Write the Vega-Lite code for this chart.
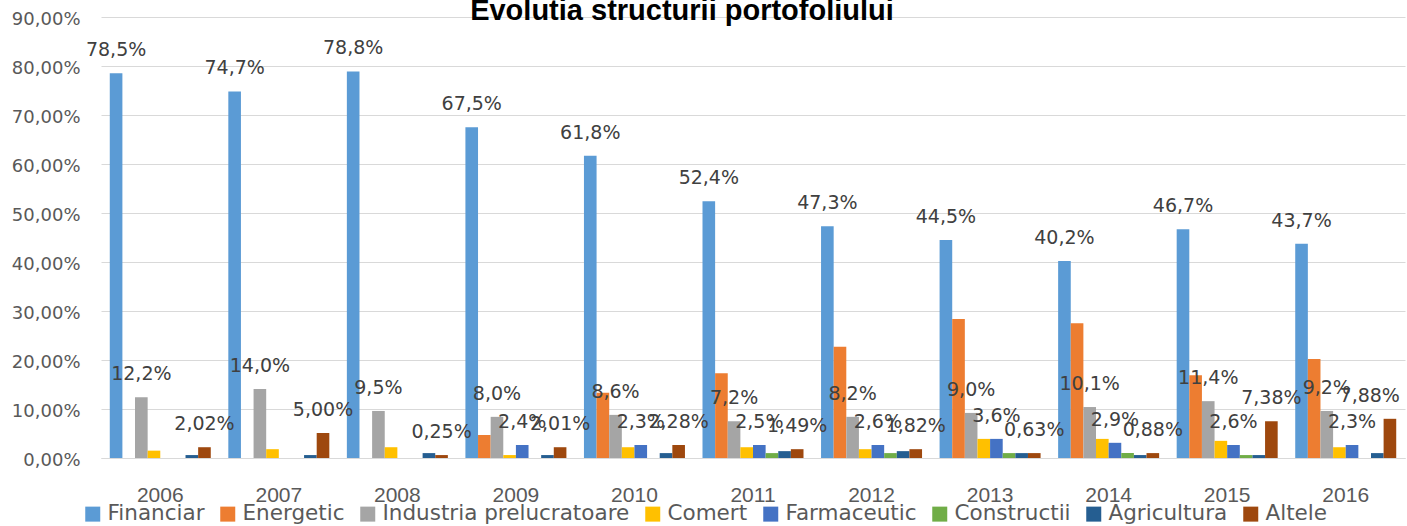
{
  "$schema": "https://vega.github.io/schema/vega-lite/v6.json",
  "autosize": {"type": "none"},
  "padding": {"left": 101, "top": 17, "right": 2, "bottom": 68},
  "width": 1304,
  "height": 441,
  "background": "white",
  "config": {
    "locale": {"number": {"decimal": ",", "thousands": ".", "grouping": [3], "currency": ["", " lei"]}},
    "view": {"stroke": null}
  },
  "title": {
    "text": "Evolutia structurii portofoliului",
    "font": "Liberation Sans",
    "fontWeight": "bold",
    "fontSize": 29,
    "color": "#000000",
    "anchor": "middle",
    "frame": "group",
    "baseline": "alphabetic",
    "offset": 0,
    "dx": -71,
    "dy": 39
  },
  "data": {
    "values": [
      {"year": "2006", "series": "Financiar", "value": 0.785, "label": "78,5%"},
      {"year": "2006", "series": "Industria prelucratoare", "value": 0.124, "label": "12,2%"},
      {"year": "2006", "series": "Comert", "value": 0.015, "label": null},
      {"year": "2006", "series": "Agricultura", "value": 0.006, "label": null},
      {"year": "2006", "series": "Altele", "value": 0.022, "label": "2,02%"},

      {"year": "2007", "series": "Financiar", "value": 0.748, "label": "74,7%"},
      {"year": "2007", "series": "Industria prelucratoare", "value": 0.141, "label": "14,0%"},
      {"year": "2007", "series": "Comert", "value": 0.018, "label": null},
      {"year": "2007", "series": "Agricultura", "value": 0.006, "label": null},
      {"year": "2007", "series": "Altele", "value": 0.051, "label": "5,00%"},

      {"year": "2008", "series": "Financiar", "value": 0.789, "label": "78,8%"},
      {"year": "2008", "series": "Industria prelucratoare", "value": 0.096, "label": "9,5%"},
      {"year": "2008", "series": "Comert", "value": 0.022, "label": null},
      {"year": "2008", "series": "Agricultura", "value": 0.010, "label": null},
      {"year": "2008", "series": "Altele", "value": 0.006, "label": "0,25%"},

      {"year": "2009", "series": "Financiar", "value": 0.675, "label": "67,5%"},
      {"year": "2009", "series": "Energetic", "value": 0.047, "label": null},
      {"year": "2009", "series": "Industria prelucratoare", "value": 0.084, "label": "8,0%"},
      {"year": "2009", "series": "Comert", "value": 0.006, "label": null},
      {"year": "2009", "series": "Farmaceutic", "value": 0.0265, "label": "2,4%"},
      {"year": "2009", "series": "Agricultura", "value": 0.006, "label": null},
      {"year": "2009", "series": "Altele", "value": 0.022, "label": "2,01%"},

      {"year": "2010", "series": "Financiar", "value": 0.617, "label": "61,8%"},
      {"year": "2010", "series": "Energetic", "value": 0.133, "label": null},
      {"year": "2010", "series": "Industria prelucratoare", "value": 0.088, "label": "8,6%"},
      {"year": "2010", "series": "Comert", "value": 0.022, "label": null},
      {"year": "2010", "series": "Farmaceutic", "value": 0.0265, "label": "2,3%"},
      {"year": "2010", "series": "Agricultura", "value": 0.010, "label": null},
      {"year": "2010", "series": "Altele", "value": 0.0265, "label": "2,28%"},

      {"year": "2011", "series": "Financiar", "value": 0.524, "label": "52,4%"},
      {"year": "2011", "series": "Energetic", "value": 0.173, "label": null},
      {"year": "2011", "series": "Industria prelucratoare", "value": 0.075, "label": "7,2%"},
      {"year": "2011", "series": "Comert", "value": 0.022, "label": null},
      {"year": "2011", "series": "Farmaceutic", "value": 0.0265, "label": "2,5%"},
      {"year": "2011", "series": "Constructii", "value": 0.010, "label": null},
      {"year": "2011", "series": "Agricultura", "value": 0.014, "label": null},
      {"year": "2011", "series": "Altele", "value": 0.018, "label": "1,49%"},

      {"year": "2012", "series": "Financiar", "value": 0.473, "label": "47,3%"},
      {"year": "2012", "series": "Energetic", "value": 0.227, "label": null},
      {"year": "2012", "series": "Industria prelucratoare", "value": 0.084, "label": "8,2%"},
      {"year": "2012", "series": "Comert", "value": 0.018, "label": null},
      {"year": "2012", "series": "Farmaceutic", "value": 0.0265, "label": "2,6%"},
      {"year": "2012", "series": "Constructii", "value": 0.010, "label": null},
      {"year": "2012", "series": "Agricultura", "value": 0.014, "label": null},
      {"year": "2012", "series": "Altele", "value": 0.018, "label": "1,82%"},

      {"year": "2013", "series": "Financiar", "value": 0.445, "label": "44,5%"},
      {"year": "2013", "series": "Energetic", "value": 0.2835, "label": null},
      {"year": "2013", "series": "Industria prelucratoare", "value": 0.092, "label": "9,0%"},
      {"year": "2013", "series": "Comert", "value": 0.039, "label": null},
      {"year": "2013", "series": "Farmaceutic", "value": 0.039, "label": "3,6%"},
      {"year": "2013", "series": "Constructii", "value": 0.010, "label": null},
      {"year": "2013", "series": "Agricultura", "value": 0.010, "label": null},
      {"year": "2013", "series": "Altele", "value": 0.010, "label": "0,63%"},

      {"year": "2014", "series": "Financiar", "value": 0.402, "label": "40,2%"},
      {"year": "2014", "series": "Energetic", "value": 0.275, "label": null},
      {"year": "2014", "series": "Industria prelucratoare", "value": 0.104, "label": "10,1%"},
      {"year": "2014", "series": "Comert", "value": 0.039, "label": null},
      {"year": "2014", "series": "Farmaceutic", "value": 0.031, "label": "2,9%"},
      {"year": "2014", "series": "Constructii", "value": 0.010, "label": null},
      {"year": "2014", "series": "Agricultura", "value": 0.006, "label": null},
      {"year": "2014", "series": "Altele", "value": 0.010, "label": "0,88%"},

      {"year": "2015", "series": "Financiar", "value": 0.467, "label": "46,7%"},
      {"year": "2015", "series": "Energetic", "value": 0.169, "label": null},
      {"year": "2015", "series": "Industria prelucratoare", "value": 0.116, "label": "11,4%"},
      {"year": "2015", "series": "Comert", "value": 0.035, "label": null},
      {"year": "2015", "series": "Farmaceutic", "value": 0.0265, "label": "2,6%"},
      {"year": "2015", "series": "Constructii", "value": 0.006, "label": null},
      {"year": "2015", "series": "Agricultura", "value": 0.006, "label": null},
      {"year": "2015", "series": "Altele", "value": 0.075, "label": "7,38%"},

      {"year": "2016", "series": "Financiar", "value": 0.437, "label": "43,7%"},
      {"year": "2016", "series": "Energetic", "value": 0.202, "label": null},
      {"year": "2016", "series": "Industria prelucratoare", "value": 0.096, "label": "9,2%"},
      {"year": "2016", "series": "Comert", "value": 0.022, "label": null},
      {"year": "2016", "series": "Farmaceutic", "value": 0.0265, "label": "2,3%"},
      {"year": "2016", "series": "Agricultura", "value": 0.010, "label": null},
      {"year": "2016", "series": "Altele", "value": 0.080, "label": "7,88%"}
    ]
  },
  "encoding": {
    "x": {
      "field": "year",
      "type": "nominal",
      "scale": {"paddingInner": 0.148, "paddingOuter": 0.074},
      "axis": {
        "title": null,
        "labelAngle": 0,
        "labelFont": "Liberation Sans",
        "labelFontSize": 21,
        "labelColor": "#595959",
        "labelPadding": 26,
        "ticks": false,
        "tickSize": 0,
        "domainColor": "#D9D9D9",
        "domainWidth": 1,
        "grid": false
      }
    },
    "xOffset": {
      "field": "series",
      "type": "nominal",
      "scale": {
        "domain": ["Financiar", "Energetic", "Industria prelucratoare", "Comert", "Farmaceutic", "Constructii", "Agricultura", "Altele"],
        "paddingInner": 0,
        "paddingOuter": 0
      }
    },
    "y": {
      "field": "value",
      "type": "quantitative",
      "scale": {"domain": [0, 0.9], "nice": false},
      "axis": {
        "title": null,
        "format": ".2%",
        "values": [0, 0.1, 0.2, 0.3, 0.4, 0.5, 0.6, 0.7, 0.8, 0.9],
        "labelFont": "DejaVu Sans",
        "labelFontSize": 18,
        "labelColor": "#595959",
        "labelPadding": 21,
        "labelOffset": 2,
        "ticks": false,
        "tickSize": 0,
        "domain": false,
        "gridColor": "#D9D9D9",
        "gridWidth": 1
      }
    }
  },
  "layer": [
    {
      "mark": {"type": "bar"},
      "encoding": {
        "color": {
          "field": "series",
          "type": "nominal",
          "scale": {
            "domain": ["Financiar", "Energetic", "Industria prelucratoare", "Comert", "Farmaceutic", "Constructii", "Agricultura", "Altele"],
            "range": ["#5B9BD5", "#ED7D31", "#A5A5A5", "#FFC000", "#4472C4", "#70AD47", "#255E91", "#9E480E"]
          },
          "legend": {
            "title": null,
            "orient": "none",
            "legendX": -19,
            "legendY": 486,
            "direction": "horizontal",
            "columns": 8,
            "columnPadding": 12,
            "padding": 0,
            "symbolType": "square",
            "symbolSize": 225,
            "symbolStrokeWidth": 0,
            "labelFont": "DejaVu Sans",
            "labelFontSize": 21.5,
            "labelColor": "#595959",
            "labelOffset": 4,
            "labelLimit": 400
          }
        }
      }
    },
    {
      "transform": [{"filter": "datum.label != null"}],
      "mark": {
        "type": "text",
        "font": "DejaVu Sans",
        "fontSize": 19,
        "color": "#404040",
        "baseline": "alphabetic",
        "align": {"expr": "datum.year == '2016' && datum.series == 'Altele' ? 'right' : 'center'"},
        "dx": {"expr": "datum.year == '2016' && datum.series == 'Altele' ? 10 : 0"},
        "dy": -17
      },
      "encoding": {
        "text": {"field": "label", "type": "nominal"}
      }
    }
  ]
}
